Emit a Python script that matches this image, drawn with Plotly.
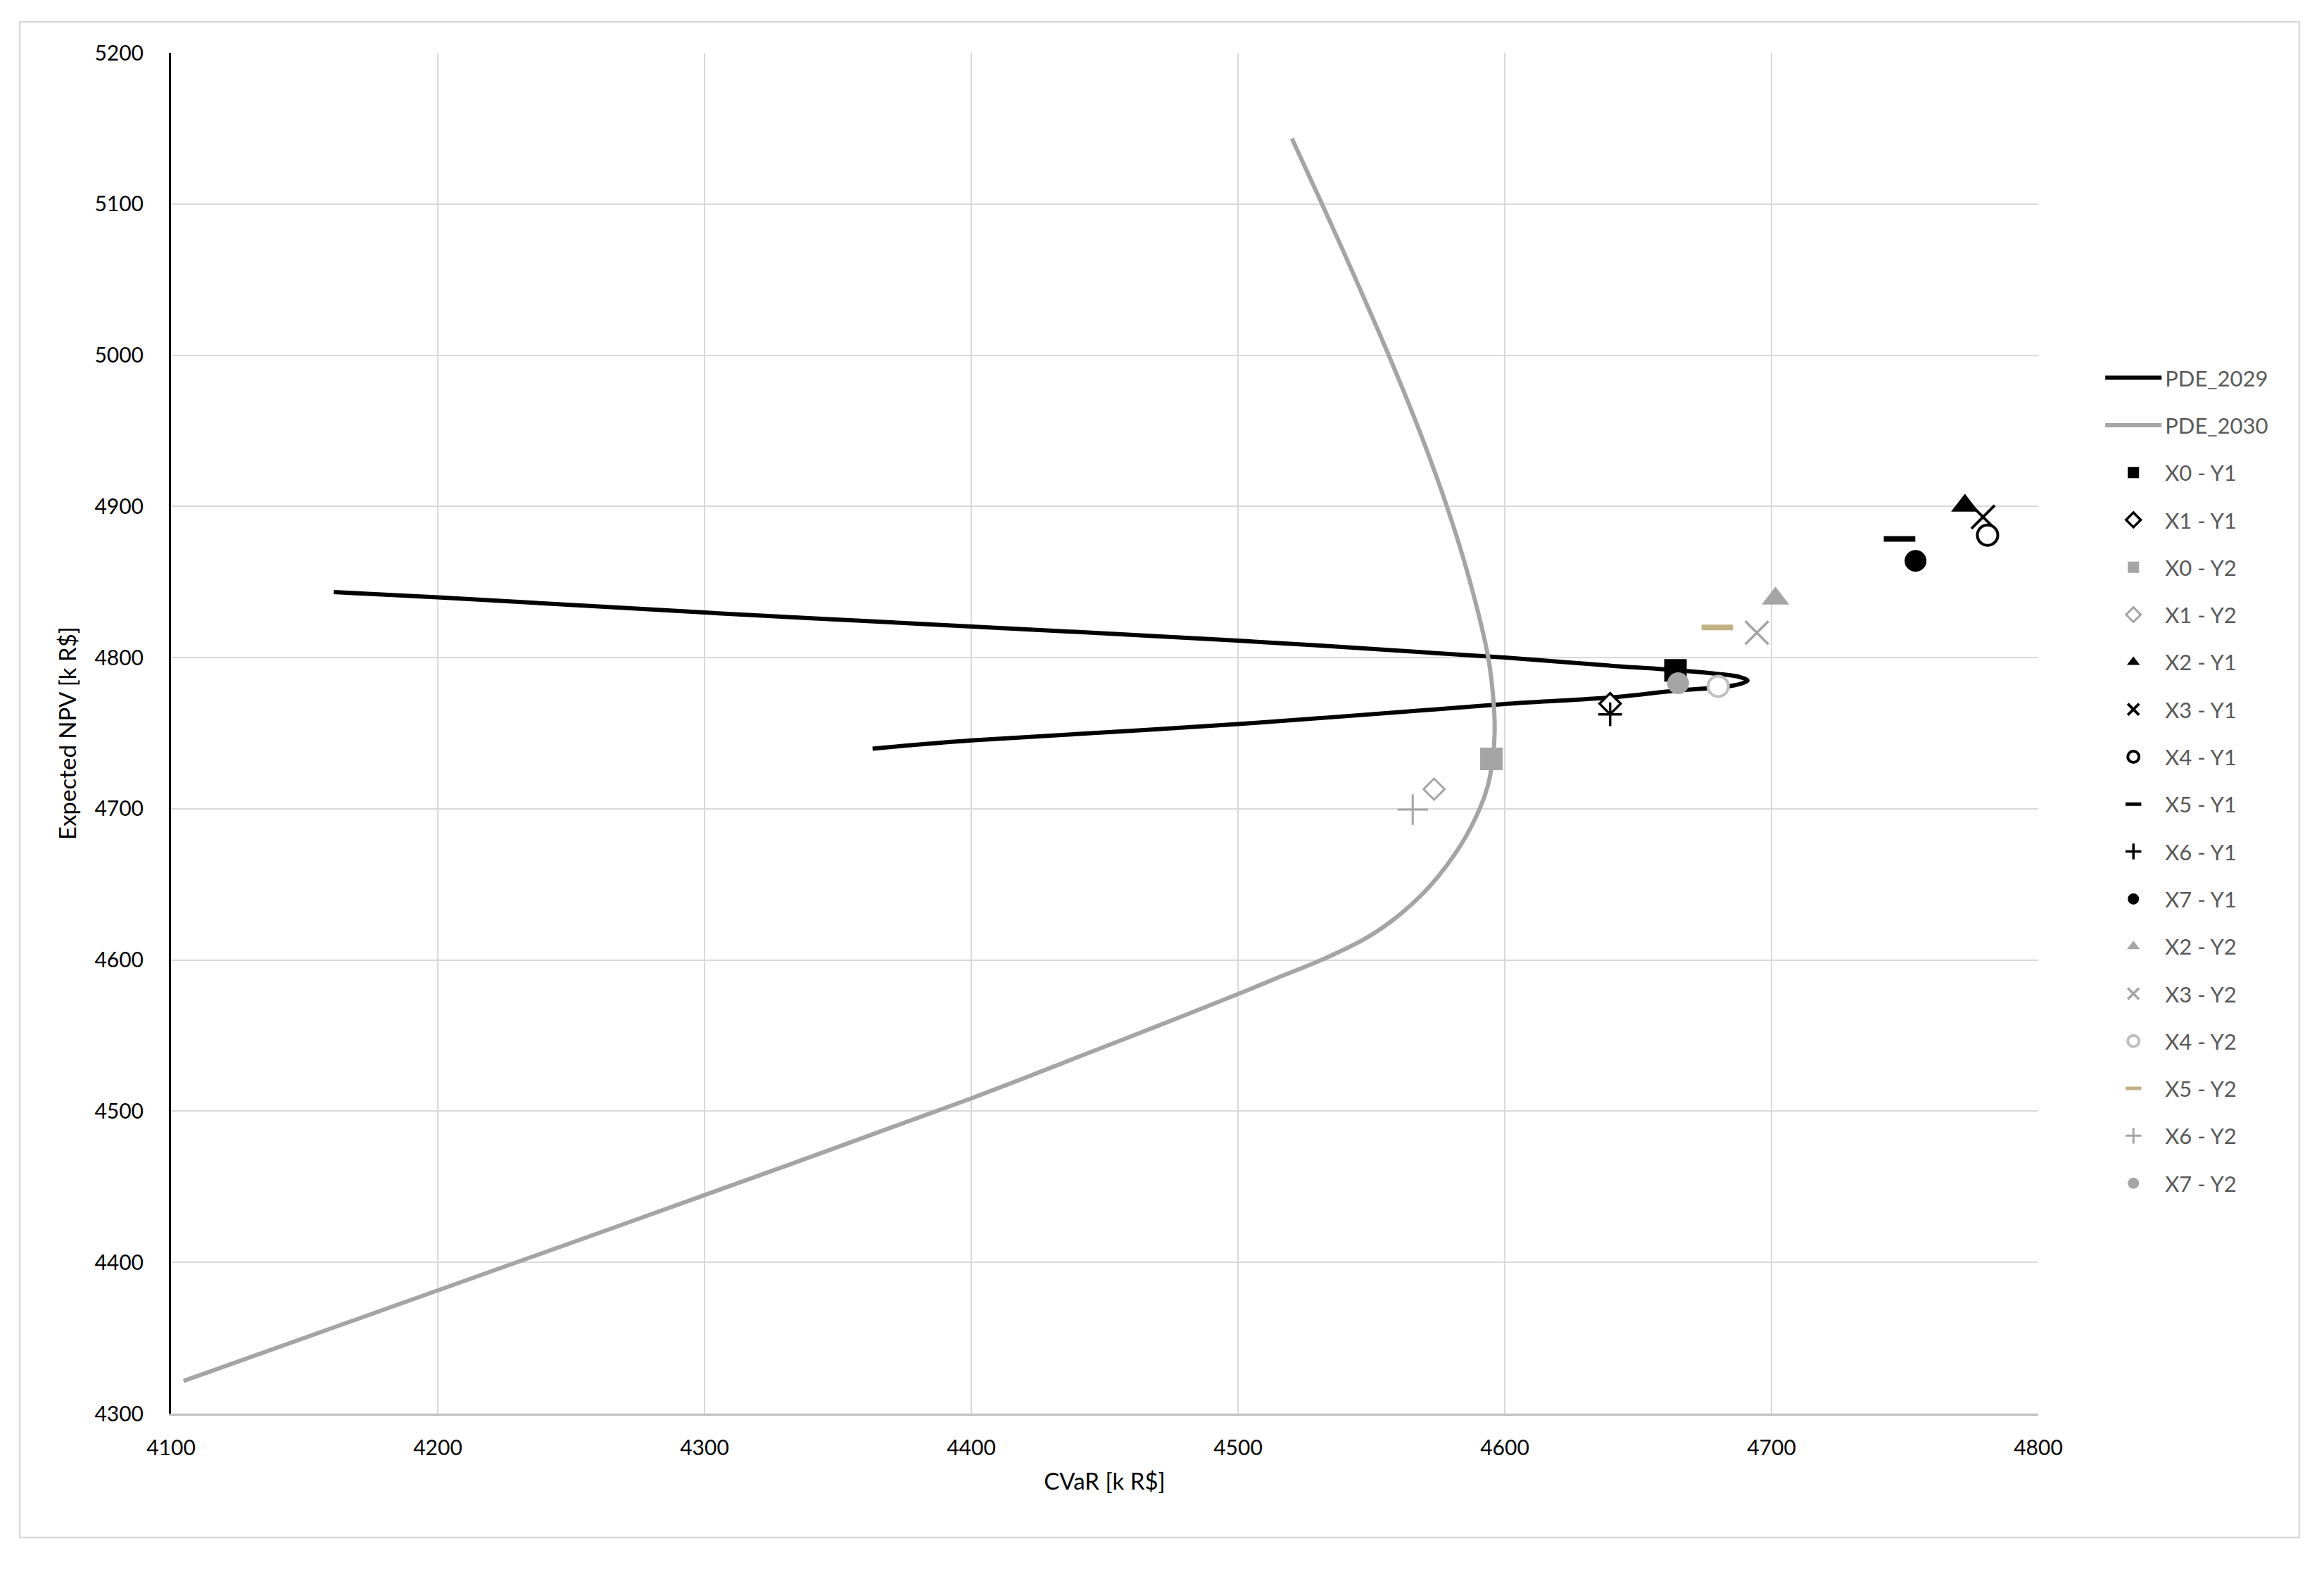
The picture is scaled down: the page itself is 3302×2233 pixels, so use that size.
import plotly.graph_objects as go

# efficient frontier curves (CVaR, expected NPV)
pde_2029_cvar = [4161, 4200, 4300, 4390, 4500, 4600, 4641.6, 4663.5, 4681, 4688, 4691,
                 4685.4, 4663.5, 4641.6, 4600, 4500, 4400, 4363]
pde_2029_npv = [4843.3, 4839.9, 4829.8, 4821.5, 4811.2, 4800, 4794.4, 4791.8, 4789, 4787.2, 4784.8,
                4781.4, 4778.1, 4773.9, 4769.3, 4756, 4745.2, 4739.8]

pde_2030_cvar = [4520.2, 4531.5, 4544.2, 4556.5, 4568, 4578.3, 4587, 4593.8, 4595.9, 4596.2,
                 4595.5, 4593.6, 4590.6, 4583.5, 4572.5, 4561, 4549, 4532.5, 4514.2, 4500,
                 4469, 4441, 4400, 4300, 4200, 4104.7]
pde_2030_npv = [5143.3, 5100, 5050, 5000, 4950, 4900, 4850, 4800, 4768.4, 4750,
                4733, 4715, 4700, 4676, 4650, 4630.5, 4615.5, 4601, 4587.8, 4577.5,
                4555.8, 4536.5, 4508.5, 4444.5, 4381.5, 4321.6]

# single portfolios
point_names = ["X0 - Y1", "X1 - Y1", "X0 - Y2", "X1 - Y2", "X2 - Y1", "X3 - Y1", "X4 - Y1", "X5 - Y1",
               "X6 - Y1", "X7 - Y1", "X2 - Y2", "X3 - Y2", "X4 - Y2", "X5 - Y2", "X6 - Y2", "X7 - Y2"]
point_cvar = [4664, 4639.5, 4595, 4573.5, 4772.5, 4779.3, 4781, 4748,
              4639.5, 4754, 4701.5, 4694.5, 4680, 4679.7, 4565.5, 4665]
point_npv = [4791.5, 4769.5, 4733, 4713, 4900.5, 4893, 4881, 4878.5,
             4762.5, 4864, 4839, 4816.5, 4781, 4820, 4699.5, 4783]

x_ticks = [4100, 4200, 4300, 4400, 4500, 4600, 4700, 4800]
y_ticks = [4300, 4400, 4500, 4600, 4700, 4800, 4900, 5000, 5100, 5200]

BLACK = "#000000"
GRAY = "#A5A5A5"
FONT = "Lato, Open Sans, sans-serif"

# marker look per series: symbol, size, fill colour, outline colour, outline width
styles = {
    "X0 - Y1": ("square", 32, BLACK, BLACK, 0),
    "X1 - Y1": ("diamond", 23, "white", BLACK, 3.5),
    "X0 - Y2": ("square", 32, GRAY, GRAY, 0),
    "X1 - Y2": ("diamond", 23, "white", GRAY, 3),
    "X2 - Y1": ("triangle-up", 34, BLACK, BLACK, 0),
    "X3 - Y1": ("x-thin-open", 33, BLACK, BLACK, 4),
    "X4 - Y1": ("circle", 29, "white", BLACK, 4),
    "X5 - Y1": ("line-ew-open", 32, BLACK, BLACK, 8),
    "X6 - Y1": ("cross-thin-open", 24, BLACK, BLACK, 3.5),
    "X7 - Y1": ("circle", 31, BLACK, BLACK, 0),
    "X2 - Y2": ("triangle-up", 34, GRAY, GRAY, 0),
    "X3 - Y2": ("x-thin-open", 33, GRAY, GRAY, 3.5),
    "X4 - Y2": ("circle", 29, "white", "#BFBFBF", 4),
    "X5 - Y2": ("line-ew-open", 32, "#C2B283", "#C2B283", 8),
    "X6 - Y2": ("cross-thin-open", 31, GRAY, GRAY, 3),
    "X7 - Y2": ("circle", 31, GRAY, GRAY, 0),
}

fig = go.Figure()

fig.add_trace(go.Scatter(x=pde_2029_cvar, y=pde_2029_npv, name="PDE_2029", mode="lines",
                         line=dict(color=BLACK, width=6, shape="spline"), legendgroup="a"))
fig.add_trace(go.Scatter(x=pde_2030_cvar, y=pde_2030_npv, name="PDE_2030", mode="lines",
                         line=dict(color=GRAY, width=6, shape="spline"), legendgroup="b"))

for i, name in enumerate(point_names):
    sym, size, fill, edge, lw = styles[name]
    fig.add_trace(go.Scatter(
        x=[point_cvar[i]], y=[point_npv[i]], name=name, mode="markers", legendgroup="p%d" % i,
        marker=dict(symbol=sym, size=size, color=fill, line=dict(color=edge, width=lw))))

fig.update_layout(
    width=3302, height=2233,
    margin=dict(l=235, r=414, t=67, b=233),
    paper_bgcolor="white", plot_bgcolor="white",
    font=dict(family=FONT, size=30, color=BLACK),
    showlegend=True,
    legend=dict(x=1.034, xanchor="left", y=0.775, yanchor="top",
                font=dict(size=31, color="#595959"), tracegroupgap=24, itemwidth=80,
                bgcolor="rgba(0,0,0,0)"),
    shapes=[dict(type="rect", xref="paper", yref="paper", x0=-0.081, x1=1.1398, y0=-0.091, y1=1.0228,
                 line=dict(color="#D9D9D9", width=2.5), layer="below")],
)

fig.update_xaxes(range=[4100, 4800], tickvals=x_ticks, showgrid=True, gridcolor="#D9D9D9", gridwidth=2,
                 zeroline=False, showline=True, linecolor="#BFBFBF", linewidth=2.5, ticks="",
                 ticklabelstandoff=20, tickfont=dict(size=30),
                 title=dict(text="CVaR [k R$]", font=dict(size=33), standoff=22))
fig.update_yaxes(range=[4300, 5200], tickvals=y_ticks, showgrid=True, gridcolor="#D9D9D9", gridwidth=2,
                 zeroline=False, showline=True, linecolor=BLACK, linewidth=3, ticks="",
                 ticklabelstandoff=30, tickfont=dict(size=30),
                 title=dict(text="Expected NPV [k R$]", font=dict(size=33), standoff=16))

fig.write_html("out.html")
